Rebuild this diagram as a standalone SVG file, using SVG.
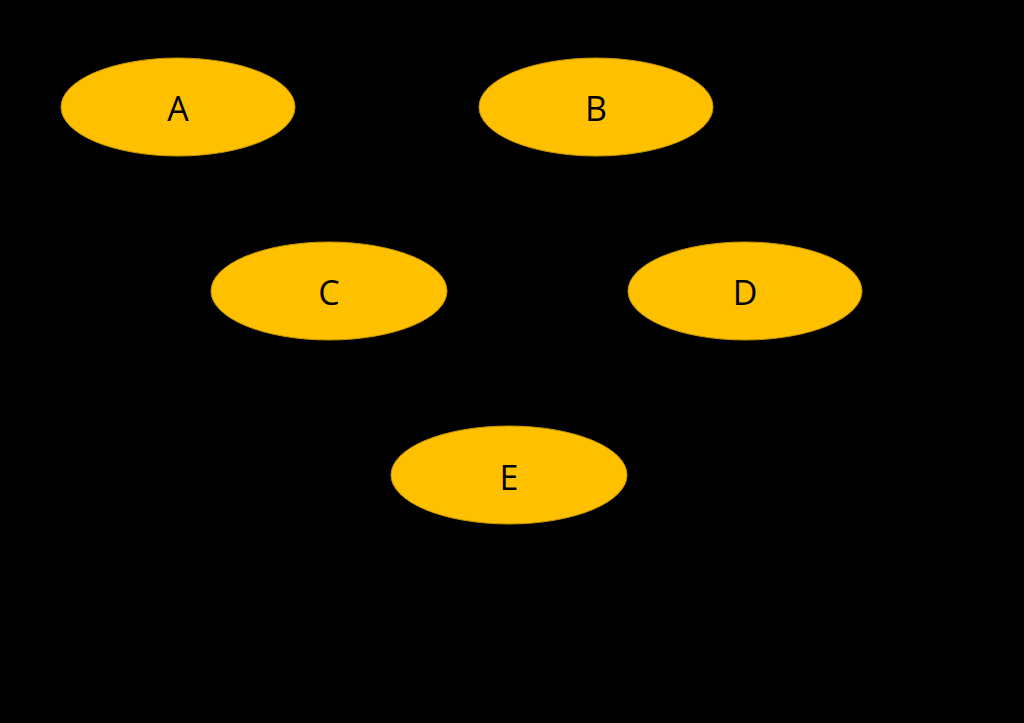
<svg xmlns="http://www.w3.org/2000/svg" width="1024" height="723" viewBox="0 0 1024 723">
<style>
.n{fill:#FFC000;stroke:#C89600;stroke-width:1}
.t{font-family:"Open Sans","Liberation Sans",sans-serif;font-size:34px;fill:#000;text-anchor:middle;dominant-baseline:central}
</style>
<rect width="1024" height="723" fill="#000"/>
<g id="connectors"></g>
<g id="A"><ellipse class="n" cx="178" cy="107" rx="117" ry="49"/><text class="t" x="178" y="108">A</text></g>
<g id="B"><ellipse class="n" cx="596" cy="107" rx="117" ry="49"/><text class="t" x="596" y="108">B</text></g>
<g id="C"><ellipse class="n" cx="329" cy="291" rx="118" ry="49"/><text class="t" x="329" y="292">C</text></g>
<g id="D"><ellipse class="n" cx="745" cy="291" rx="117" ry="49"/><text class="t" x="745" y="292">D</text></g>
<g id="E"><ellipse class="n" cx="509" cy="475" rx="118" ry="49"/><text class="t" x="509" y="477">E</text></g>
</svg>
